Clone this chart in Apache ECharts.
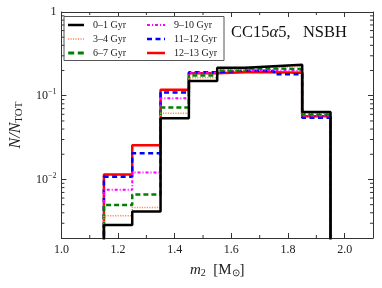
<!DOCTYPE html>
<html><head><meta charset="utf-8">
<script src="https://cdn.jsdelivr.net/npm/echarts@6/dist/echarts.min.js"></script>
<style>html,body{margin:0;padding:0;background:#fff}#c{width:382px;height:288px}</style>
</head><body><div id="c"></div>
<script>
// Histogram bin edges (M_sun)
const binEdges = [1.15, 1.25, 1.35, 1.45, 1.55, 1.65, 1.75, 1.85, 1.95];
const seriesNames = ['0\u20131 Gyr', '3\u20134 Gyr', '6\u20137 Gyr', '9\u201310 Gyr', '11\u201312 Gyr', '12\u201313 Gyr'];
// N/N_TOT per bin
const age0_1   = [0.00286, 0.00415, 0.0537, 0.150, 0.216, 0.225, 0.234, 0.064];
const age3_4   = [0.0037, 0.00464, 0.0616, 0.164, 0.206, 0.219, 0.222, 0.0616];
const age6_7   = [0.00494, 0.00663, 0.0726, 0.175, 0.200, 0.212, 0.208, 0.0605];
const age9_10  = [0.00754, 0.0121, 0.093, 0.188, 0.200, 0.202, 0.197, 0.058];
const age11_12 = [0.0108, 0.0206, 0.109, 0.191, 0.200, 0.197, 0.181, 0.0547];
const age12_13 = [0.0115, 0.0256, 0.118, 0.185, 0.191, 0.191, 0.188, 0.057];
const xMinorTicks = [1.1, 1.3, 1.5, 1.7, 1.9];
const yMinorTicks = [0.003,0.004,0.005,0.006,0.007,0.008,0.009,
                     0.02,0.03,0.04,0.05,0.06,0.07,0.08,0.09,
                     0.2,0.3,0.4,0.5,0.6,0.7,0.8,0.9];

const allValues = [age0_1, age3_4, age6_7, age9_10, age11_12, age12_13];
const styles = [
  {color:'#000000', width:2.5, type:'solid'},
  {color:'#ff8a50', width:1.5, type:[1.2,1.3]},
  {color:'#008000', width:2.5, type:[5,3]},
  {color:'#ff00ff', width:2, type:[3,2,1,2]},
  {color:'#0000ff', width:2.5, type:[5,3.5]},
  {color:'#ff0000', width:2.5, type:'solid'}
];
const FLOOR = 1e-4;
function stepData(vals){
  const d = [[binEdges[0], FLOOR]];
  for (let i = 0; i < vals.length; i++) d.push([binEdges[i], vals[i]]);
  d.push([binEdges[binEdges.length-1], FLOOR]);
  return d;
}
const serif = 'Liberation Serif';
const series = [];
for (let i = allValues.length - 1; i >= 0; i--) {
  const s = styles[i];
  series.push({
    name: seriesNames[i], type:'line', step:'end', symbol:'none',
    data: stepData(allValues[i]), clip:true,
    lineStyle:{color:s.color, width:s.width, type:s.type},
    itemStyle:{color:s.color}
  });
}
function tickSeries(kind, vals){
  return {
    type:'custom', silent:true, clip:false, z:10,
    data: vals.map(v => [v]),
    renderItem: function(params, api){
      const cs = params.coordSys;
      const v = api.value(0);
      const L = 3;
      if (kind === 'x') {
        const p = api.coord([v, 0.5]);
        return {type:'group', children:[
          {type:'line', shape:{x1:p[0], y1:cs.y+cs.height, x2:p[0], y2:cs.y+cs.height-L}, style:{stroke:'#333', lineWidth:1}},
          {type:'line', shape:{x1:p[0], y1:cs.y, x2:p[0], y2:cs.y+L}, style:{stroke:'#333', lineWidth:1}}
        ]};
      } else {
        const p = api.coord([1.5, v]);
        return {type:'group', children:[
          {type:'line', shape:{x1:cs.x, y1:p[1], x2:cs.x+L, y2:p[1]}, style:{stroke:'#333', lineWidth:1}},
          {type:'line', shape:{x1:cs.x+cs.width, y1:p[1], x2:cs.x+cs.width-L, y2:p[1]}, style:{stroke:'#333', lineWidth:1}}
        ]};
      }
    }
  };
}
series.push(tickSeries('x', xMinorTicks));
series.push(tickSeries('y', yMinorTicks));

function yLabel(v){
  const l = Math.log10(v);
  if (Math.abs(l - Math.round(l)) > 1e-6) return '';
  const r = Math.round(l);
  if (r === 0) return '{b|1}';
  return '{b|10}{s|\u2212' + (-r) + '}';
}
// legend sample icon: a dashed stripe as a filled path
function iconPath(len, h, type){
  if (type === 'solid') return 'path://M0,0H' + len + 'V' + h + 'H0Z';
  let x = 0, k = 0, p = '';
  while (x < len - 0.01) {
    const seg = type[k % type.length];
    if (k % 2 === 0) {
      const e = Math.min(len, x + seg);
      p += 'M' + x.toFixed(2) + ',0H' + e.toFixed(2) + 'V' + h + 'H' + x.toFixed(2) + 'Z';
    }
    x += seg; k++;
  }
  return 'path://' + p;
}
function legendItems(from, to, len){
  const out = [];
  for (let i = from; i < to; i++) {
    const s = styles[i];
    out.push({name:seriesNames[i], icon:iconPath(len, s.width, s.type),
      itemStyle:{color:s.color, borderWidth:0}, textStyle:{color:'#222'}});
  }
  return out;
}
const axisLine = {show:true, lineStyle:{color:'#333', width:1}};
const legendText = {fontFamily:serif, fontSize:10, color:'#222', padding:[0,0,0,4]};
const chart = echarts.init(document.getElementById('c'), null, {renderer:'canvas'});
chart.setOption({
  animation:false,
  backgroundColor:'#fff',
  grid:{left:58.5, right:9, top:12, bottom:50},
  xAxis:[{
    type:'value', min:1.0, max:2.1, interval:0.2, position:'bottom',
    axisLine:axisLine, splitLine:{show:false},
    axisTick:{inside:true, length:5, lineStyle:{color:'#333'}},
    axisLabel:{fontFamily:serif, fontSize:12, color:'#222', margin:6, showMaxLabel:false,
      formatter: v => (Math.abs(v*5 - Math.round(v*5)) < 1e-6 ? v.toFixed(1) : '')},
    name:'{i|m}{sub|2}{r|  [M}{sub|\u2299}{r|]}', nameLocation:'middle', nameGap:24,
    nameTextStyle:{rich:{
      i:{fontFamily:serif, fontStyle:'italic', fontSize:15, color:'#222'},
      r:{fontFamily:serif, fontSize:15, color:'#222'},
      sub:{fontFamily:serif, fontSize:10, color:'#222', padding:[6,0,0,0]}
    }}
  },{
    type:'value', min:1.0, max:2.1, interval:0.2, position:'top',
    axisLine:axisLine, splitLine:{show:false},
    axisTick:{inside:true, length:5, lineStyle:{color:'#333'}},
    axisLabel:{show:false}
  }],
  yAxis:[{
    type:'log', min:0.002, max:1, logBase:10, position:'left',
    axisLine:axisLine, splitLine:{show:false},
    axisTick:{inside:true, length:5, lineStyle:{color:'#333'}},
    axisLabel:{formatter:yLabel, margin:5, rich:{
      b:{fontFamily:serif, fontSize:12, color:'#222'},
      s:{fontFamily:serif, fontSize:8, color:'#222', padding:[0,0,7,0]}
    }},
    name:'{i|N/N}{sub|TOT}', nameLocation:'middle', nameGap:34, nameRotate:90,
    nameTextStyle:{rich:{
      i:{fontFamily:serif, fontStyle:'italic', fontSize:16, color:'#222'},
      sub:{fontFamily:serif, fontSize:11, color:'#222', padding:[7,0,0,0]}
    }}
  },{
    type:'log', min:0.002, max:1, logBase:10, position:'right',
    axisLine:axisLine, splitLine:{show:false},
    axisTick:{inside:true, length:5, lineStyle:{color:'#333'}},
    axisLabel:{show:false}
  }],
  legend:[{
    data:legendItems(0,3,16), orient:'vertical', left:63, top:15,
    itemWidth:16, itemHeight:3, itemGap:4, symbolKeepAspect:true,
    textStyle:legendText, selectedMode:false
  },{
    data:legendItems(3,6,18), orient:'vertical', left:142, top:15,
    itemWidth:18, itemHeight:3, itemGap:4, symbolKeepAspect:true,
    textStyle:legendText, selectedMode:false
  }],
  graphic:[{
    type:'rect', left:63.5, top:16, shape:{width:160, height:44},
    style:{fill:'rgba(255,255,255,0)', stroke:'#555', lineWidth:1}, z:100, silent:true
  },{
    type:'text', left:231, top:24,
    style:{text:'{r|CC15}{a|\u03b1}{r|5,   NSBH}', rich:{
      r:{fontFamily:serif, fontSize:16.5, fill:'#111'},
      a:{fontFamily:serif, fontSize:16.5, fontStyle:'italic', fill:'#111'}
    }}, z:100
  }],
  series: series
});
</script></body></html>
